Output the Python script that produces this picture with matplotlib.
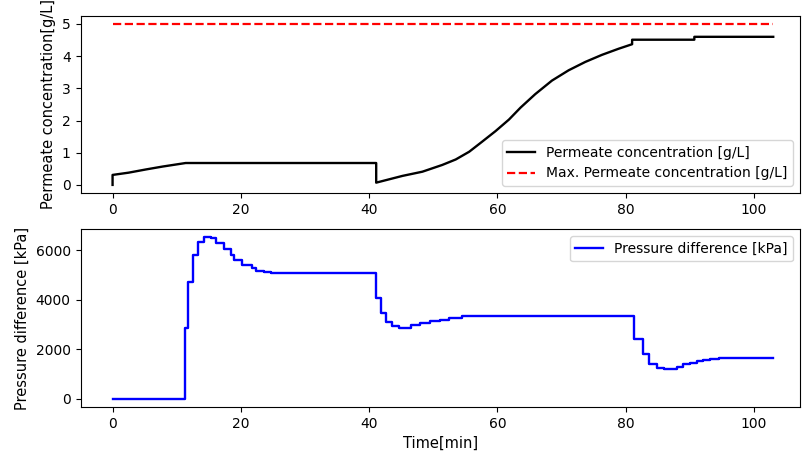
import numpy as np
import matplotlib
matplotlib.use("Agg")
import matplotlib.pyplot as plt

# permeate concentration
conc_t = [0, 0, 2.5, 5.2, 7.8, 11.4, 41.1, 41.1, 45.2, 48.3, 51.4, 53.5, 55.6,
          57.6, 59.7, 61.8, 63.6, 65.9, 68.5, 71.1, 73.7, 76.3, 78.9, 81.0,
          81.0, 90.7, 90.7, 103.0]
conc = [0, 0.31, 0.38, 0.48, 0.57, 0.68, 0.68, 0.07, 0.28, 0.41, 0.62, 0.79, 1.03,
        1.34, 1.67, 2.03, 2.40, 2.82, 3.24, 3.56, 3.82, 4.04, 4.23, 4.37,
        4.51, 4.51, 4.60, 4.60]
max_conc_t = [0, 103.0]
max_conc = [5, 5]

# pressure difference (stepwise)
dp_t = [0, 11.27, 11.8, 12.6, 13.25, 14.3, 15.3, 16.1, 17.3, 18.4, 19.0, 20.2,
        21.8, 22.3, 23.6, 24.7, 41.0, 41.8, 42.6, 43.6, 44.6, 46.5, 48.0, 49.5,
        51.0, 52.5, 54.5, 81.3, 82.7, 83.7, 84.9, 86.0, 88.0, 89.0, 90.1, 91.1,
        92.1, 93.2, 94.5, 96.0, 103.0]
dp = [0, 2858, 4712, 5815, 6325, 6525, 6485, 6300, 6058, 5828, 5614, 5425,
      5292, 5183, 5115, 5075, 4083, 3462, 3100, 2938, 2874, 3000, 3060, 3130,
      3190, 3250, 3341, 2430, 1798, 1423, 1262, 1193, 1286, 1395, 1463, 1528,
      1584, 1608, 1636, 1648, 1648]

plt.rcParams['font.size'] = 10
fig = plt.figure(figsize=(8.05, 4.54), dpi=100)
ax1 = fig.add_axes([0.1, 0.575, 0.894, 0.39])
ax2 = fig.add_axes([0.1, 0.104, 0.894, 0.391])

ax1.plot(conc_t, conc, 'k-', lw=1.7, label="Permeate concentration [g/L]")
ax1.plot(max_conc_t, max_conc, 'r--', lw=1.6, label="Max. Permeate concentration [g/L]")
ax1.set_ylabel("Permeate concentration[g/L]", fontsize=10.5)
ax1.set_xlim(-5, 107.2)
ax1.legend(loc="lower right")

ax2.plot(dp_t, dp, 'b-', lw=1.7, drawstyle='steps-post', label="Pressure difference [kPa]")
ax2.set_ylabel("Pressure difference [kPa]", fontsize=10.5)
ax2.set_xlabel("Time[min]", fontsize=10.5)
ax2.set_xlim(-5, 107.2)
ax2.legend(loc="upper right")

fig.savefig("out.png", dpi=100)
